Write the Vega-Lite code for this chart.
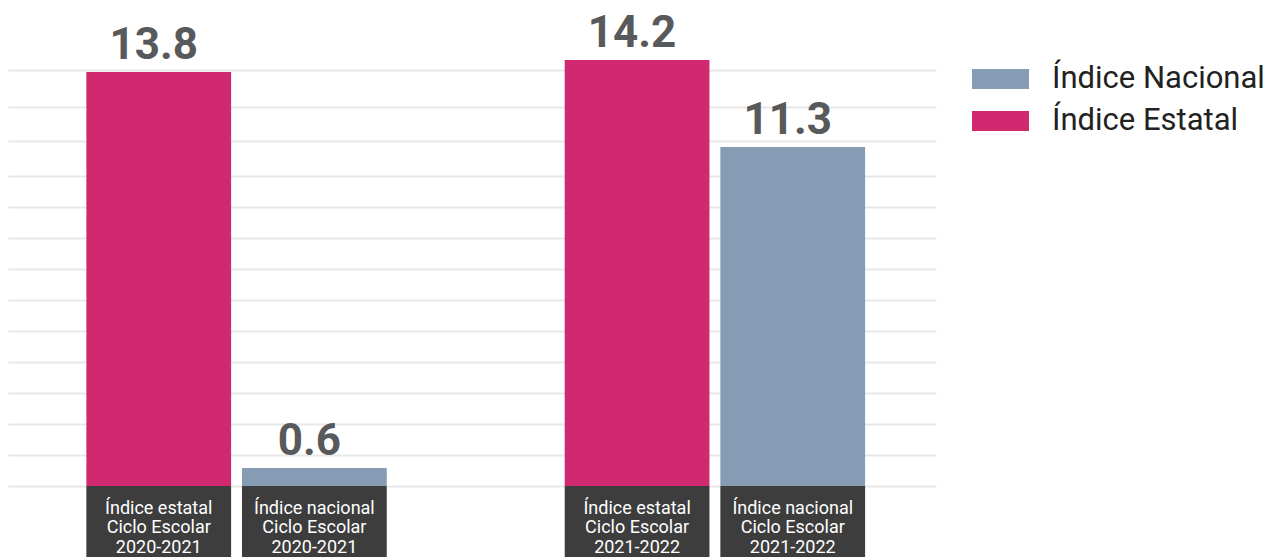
{
  "$schema": "https://vega.github.io/schema/vega-lite/v6.json",
  "width": 928,
  "height": 557,
  "padding": {"left": 8, "top": 0, "right": 0, "bottom": 0},
  "autosize": {"type": "pad"},
  "background": "white",
  "config": {
    "view": {"stroke": null},
    "font": "Roboto"
  },
  "data": {
    "values": [
      {"ciclo": "2020-2021", "tipo": "Índice Estatal", "valor": 13.8, "texto": "13.8", "etiqueta": ["Índice estatal", "Ciclo Escolar", "2020-2021"]},
      {"ciclo": "2020-2021", "tipo": "Índice Nacional", "valor": 0.6, "texto": "0.6", "etiqueta": ["Índice nacional", "Ciclo Escolar", "2020-2021"]},
      {"ciclo": "2021-2022", "tipo": "Índice Estatal", "valor": 14.2, "texto": "14.2", "etiqueta": ["Índice estatal", "Ciclo Escolar ", "2021-2022"]},
      {"ciclo": "2021-2022", "tipo": "Índice Nacional", "valor": 11.3, "texto": "11.3", "etiqueta": ["Índice nacional", "Ciclo Escolar", "2021-2022"]}
    ]
  },
  "encoding": {
    "x": {
      "field": "ciclo",
      "type": "nominal",
      "sort": ["2020-2021", "2021-2022"],
      "scale": {"paddingInner": 0.372, "paddingOuter": 0.156, "align": 0.525},
      "axis": null
    },
    "xOffset": {
      "field": "tipo",
      "type": "nominal",
      "sort": ["Índice Estatal", "Índice Nacional"],
      "scale": {"paddingInner": 0.07, "paddingOuter": 0}
    }
  },
  "layer": [
    {
      "mark": {"type": "bar"},
      "encoding": {
        "y": {
          "field": "valor",
          "type": "quantitative",
          "scale": {"domain": [-2.37, 16.2], "nice": false, "zero": false},
          "axis": {
            "title": null,
            "labels": false,
            "ticks": false,
            "domain": false,
            "grid": true,
            "gridColor": "#e8e8e8",
            "gridWidth": 2,
            "values": [0, 1.033, 2.067, 3.1, 4.133, 5.167, 6.2, 7.233, 8.267, 9.3, 10.33, 11.5, 12.63, 13.88]
          }
        },
        "color": {
          "field": "tipo",
          "type": "nominal",
          "scale": {"domain": ["Índice Nacional", "Índice Estatal"], "range": ["#869cb5", "#d02970"]},
          "legend": {
            "title": null,
            "orient": "none",
            "legendX": 964,
            "legendY": 58,
            "padding": 0,
            "labelFont": "Roboto",
            "labelFontSize": 31,
            "labelColor": "#222222",
            "labelOffset": 23,
            "labelLimit": 400,
            "symbolType": "M-1,-0.351H1V0.351H-1Z",
            "symbolSize": 3249,
            "symbolStrokeWidth": 0,
            "symbolOpacity": 1,
            "clipHeight": 42,
            "rowPadding": 0
          }
        }
      }
    },
    {
      "mark": {"type": "text", "font": "Roboto", "fontWeight": "bold", "fontSize": 44, "color": "#58595b", "baseline": "alphabetic", "dy": -13, "dx": -5},
      "encoding": {
        "y": {"field": "valor", "type": "quantitative"},
        "text": {"field": "texto"}
      }
    },
    {
      "mark": {"type": "bar", "color": "#3d3d3d"},
      "encoding": {
        "y": {"datum": 0, "type": "quantitative"},
        "y2": {"datum": -2.4}
      }
    },
    {
      "mark": {"type": "text", "font": "Roboto", "fontSize": 18, "color": "white", "baseline": "alphabetic", "dy": 28, "lineHeight": 19.5},
      "encoding": {
        "y": {"datum": 0, "type": "quantitative"},
        "text": {"field": "etiqueta"}
      }
    }
  ]
}
